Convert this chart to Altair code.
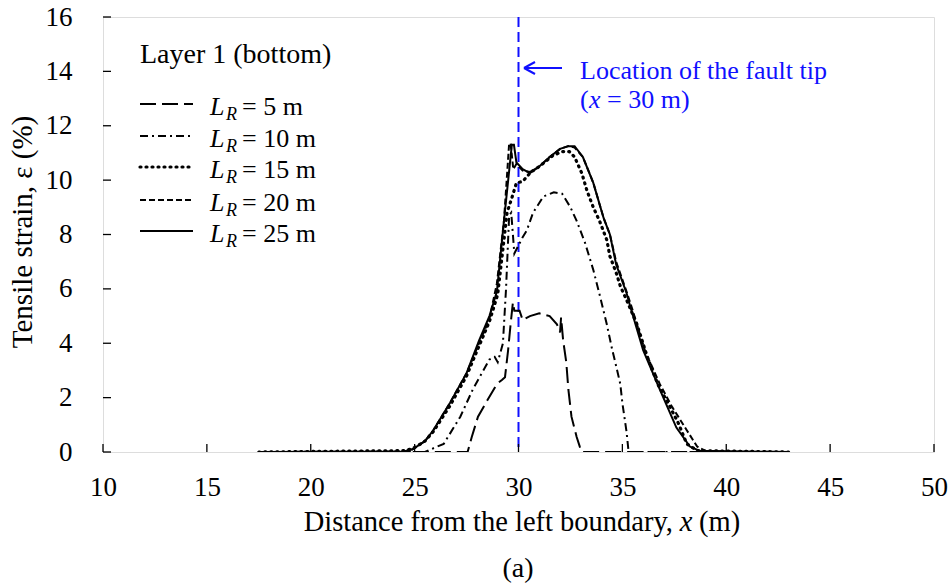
import altair as alt
import pandas as pd

# ---------------- data ----------------
x5 = [17.5, 27.55, 27.75, 28.05, 28.5, 28.96, 29.2, 29.35, 29.5, 29.62, 29.73, 29.8, 30.05, 30.2, 30.55, 31.0, 31.5, 31.85, 32.0, 32.05, 32.15, 32.3, 32.4, 32.55, 32.8, 32.95, 33.05, 43.0]
y5 = [0, 0, 0.55, 1.3, 1.9, 2.5, 2.65, 2.75, 3.75, 4.7, 5.5, 5.2, 5.2, 4.85, 5.0, 5.1, 5.0, 4.7, 4.4, 4.95, 4.1, 3.3, 2.3, 1.3, 0.55, 0.2, 0.0, 0]

x10 = [17.5, 25.5, 25.7, 26.4, 27.2, 27.8, 28.6, 28.85, 29.0, 29.25, 29.4, 29.55, 29.65, 29.8, 30.2, 30.4, 30.7, 31.2, 31.7, 32.1, 32.5, 32.8, 33.2, 33.6, 33.9, 34.25, 34.5, 34.75, 34.9, 35.0, 35.2, 35.3, 43.0]
y10 = [0, 0, 0.07, 0.3, 1.3, 2.3, 3.4, 3.5, 3.3, 4.0, 6.0, 8.7, 8.8, 7.3, 7.9, 8.15, 8.8, 9.4, 9.55, 9.5, 9.0, 8.5, 7.7, 6.7, 5.8, 4.7, 3.8, 3.0, 2.5, 1.8, 0.75, 0.0, 0]

x15 = [17.5, 20.0, 24.5, 24.9, 25.5, 25.9, 26.7, 27.5, 28.1, 28.6, 29.0, 29.45, 29.7, 29.9, 30.2, 30.6, 31.0, 31.65, 32.1, 32.45, 32.7, 33.05, 33.3, 33.6, 33.9, 34.25, 34.4, 34.7, 34.9, 35.2, 35.7, 36.2, 36.7, 37.3, 37.7, 38.1, 38.6, 43.0]
y15 = [0, 0.02, 0.05, 0.12, 0.4, 0.75, 1.7, 2.8, 3.9, 4.8, 5.8, 8.8, 9.4, 9.9, 9.95, 10.3, 10.5, 10.9, 11.05, 11.05, 10.85, 10.25, 9.6, 9.0, 8.5, 7.8, 7.2, 6.6, 6.1, 5.6, 4.7, 3.5, 2.5, 1.65, 1.05, 0.3, 0.05, 0]

x20 = [17.5, 24.5, 24.9, 25.5, 25.9, 26.7, 27.5, 28.1, 28.6, 28.96, 29.3, 29.55, 29.62, 29.75, 29.9, 30.2, 30.55, 31.0, 31.5, 32.0, 32.4, 32.7, 33.1, 33.6, 34.1, 34.4, 34.7, 35.2, 35.5, 36.1, 36.8, 37.4, 38.1, 38.6, 39.1, 43.0]
y20 = [0, 0.02, 0.1, 0.4, 0.8, 1.8, 2.9, 4.0, 4.9, 6.2, 8.5, 11.35, 11.35, 10.4, 10.6, 10.35, 10.3, 10.5, 10.85, 11.15, 11.25, 11.2, 10.85, 9.9, 8.6, 8.0, 7.0, 5.9, 5.2, 3.7, 2.5, 1.65, 0.8, 0.2, 0.0, 0]

x25 = [17.5, 24.5, 24.9, 25.5, 25.9, 26.7, 27.5, 28.1, 28.6, 28.96, 29.3, 29.68, 29.78, 29.9, 30.2, 30.55, 31.0, 31.5, 32.0, 32.4, 32.7, 33.1, 33.6, 34.1, 34.4, 34.7, 35.2, 35.4, 36.0, 36.8, 37.6, 38.25, 38.7, 43.0]
y25 = [0, 0.02, 0.1, 0.4, 0.8, 1.8, 2.9, 4.1, 5.0, 5.9, 8.5, 11.3, 11.3, 10.65, 10.4, 10.26, 10.5, 10.85, 11.15, 11.25, 11.25, 10.85, 9.9, 8.6, 8.0, 6.9, 5.85, 5.3, 3.75, 2.3, 0.9, 0.2, 0.05, 0]

series_names = ["5", "10", "15", "20", "25"]
series_x = [x5, x10, x15, x20, x25]
series_y = [y5, y10, y15, y20, y25]

x_ticks = [10, 15, 20, 25, 30, 35, 40, 45, 50]
y_ticks = [0, 2, 4, 6, 8, 10, 12, 14, 16]
fault_tip = [30]

# ---------------- layout / style ----------------
W, H = 831, 435
PL, PT = 103, 17
FONT = "Liberation Serif"
BLUE = "#1010ff"

styles = {
    "5": dict(strokeDash=[16, 6], strokeWidth=2),
    "10": dict(strokeDash=[8, 4, 2, 4], strokeWidth=2),
    "15": dict(strokeDash=[1, 5], strokeWidth=3.2, strokeCap="round"),
    "20": dict(strokeDash=[6, 3], strokeWidth=2),
    "25": dict(strokeWidth=2),
}

xscale = alt.Scale(domain=[10, 50], nice=False, zero=False)
yscale = alt.Scale(domain=[0, 16], nice=False)

xaxis = alt.Axis(values=x_ticks, title=None, ticks=False, tickSize=0, domain=False, grid=False,
                 labelFlush=False, labelOverlap=False,
                 labelFont=FONT, labelFontSize=27, labelColor="black", labelPadding=22)
yaxis = alt.Axis(values=y_ticks, title=None, ticks=False, tickSize=0, domain=False, grid=False,
                 labelFlush=False, labelOverlap=False,
                 labelFont=FONT, labelFontSize=27, labelColor="black", labelPadding=31)

DUMMY = pd.DataFrame({"d": [0]})

layers = []

# fault tip line
layers.append(
    alt.Chart(pd.DataFrame({"x": fault_tip})).mark_rule(color=BLUE, strokeDash=[10, 5], strokeWidth=2)
    .encode(x=alt.X("x:Q", scale=xscale, axis=xaxis))
)

# curves
for name, xs, ys in zip(series_names, series_x, series_y):
    df = pd.DataFrame({"x": xs, "y": ys, "i": range(len(xs))})
    layers.append(
        alt.Chart(df).mark_line(color="black", clip=True, **styles[name]).encode(
            x=alt.X("x:Q", scale=xscale, axis=xaxis),
            y=alt.Y("y:Q", scale=yscale, axis=yaxis),
            order="i:Q",
        )
    )

# inward ticks
layers.append(
    alt.Chart(pd.DataFrame({"t": x_ticks})).mark_rule(color="black", strokeWidth=1.3)
    .encode(x=alt.X("t:Q", scale=xscale, axis=xaxis), y=alt.value(H), y2=alt.value(H - 8))
)
layers.append(
    alt.Chart(pd.DataFrame({"t": y_ticks})).mark_rule(color="black", strokeWidth=1.3)
    .encode(y=alt.Y("t:Q", scale=yscale, axis=yaxis), x=alt.value(0), x2=alt.value(8))
)


def txt(s, px, py, size=26, style="normal", color="black", align="left", angle=0, baseline="alphabetic"):
    return alt.Chart(DUMMY).mark_text(
        text=s, align=align, baseline=baseline, font=FONT, fontSize=size,
        fontStyle=style, color=color, angle=angle,
    ).encode(x=alt.value(px - PL), y=alt.value(py - PT))


def seg(x1, y1, x2, y2, color="black", **kw):
    return alt.Chart(DUMMY).mark_rule(color=color, **kw).encode(
        x=alt.value(x1 - PL), y=alt.value(y1 - PT), x2=alt.value(x2 - PL), y2=alt.value(y2 - PT)
    )


# legend
layers.append(txt("Layer 1 (bottom)", 140, 63, size=28))
row_y = [104, 136, 167, 200, 231]
for name, ry in zip(series_names, row_y):
    layers.append(seg(140, ry, 193, ry, **styles[name]))
    layers.append(txt("L", 210, ry + 11, size=26, style="italic"))
    layers.append(txt("R", 226, ry + 16, size=18, style="italic"))
    layers.append(txt(f"= {name} m", 242, ry + 11, size=26))

# fault tip annotation
layers.append(seg(524, 68, 562, 68, color=BLUE, strokeWidth=2))
layers.append(seg(524, 68, 535, 62, color=BLUE, strokeWidth=2))
layers.append(seg(524, 68, 535, 74, color=BLUE, strokeWidth=2))
layers.append(txt("Location of the fault tip", 580, 79, size=26, color=BLUE))
layers.append(txt("(", 580, 108, size=26, color=BLUE))
layers.append(txt("x", 589, 108, size=26, color=BLUE, style="italic"))
layers.append(txt("= 30 m)", 607, 108, size=26, color=BLUE))

# axis titles
layers.append(txt("Tensile strain, \u03b5 (%)", 32, 232, size=29, angle=270, align="center"))
layers.append(txt("Distance from the left boundary,", 673, 531, size=28.5, align="right"))
layers.append(txt("x", 686, 531, size=28.5, style="italic", align="center"))
layers.append(txt("(m)", 699, 531, size=28.5))
layers.append(txt("(a)", 518, 577, size=28, align="center"))

chart = alt.layer(*layers).properties(
    width=W, height=H,
    autosize=alt.AutoSizeParams(type="none"),
    padding={"left": PL, "top": PT, "right": 951 - PL - W, "bottom": 585 - PT - H},
).configure_view(stroke="black", strokeWidth=1.5).configure(background="white")

chart.save("out.html", embed_options={"renderer": "svg", "actions": False})
